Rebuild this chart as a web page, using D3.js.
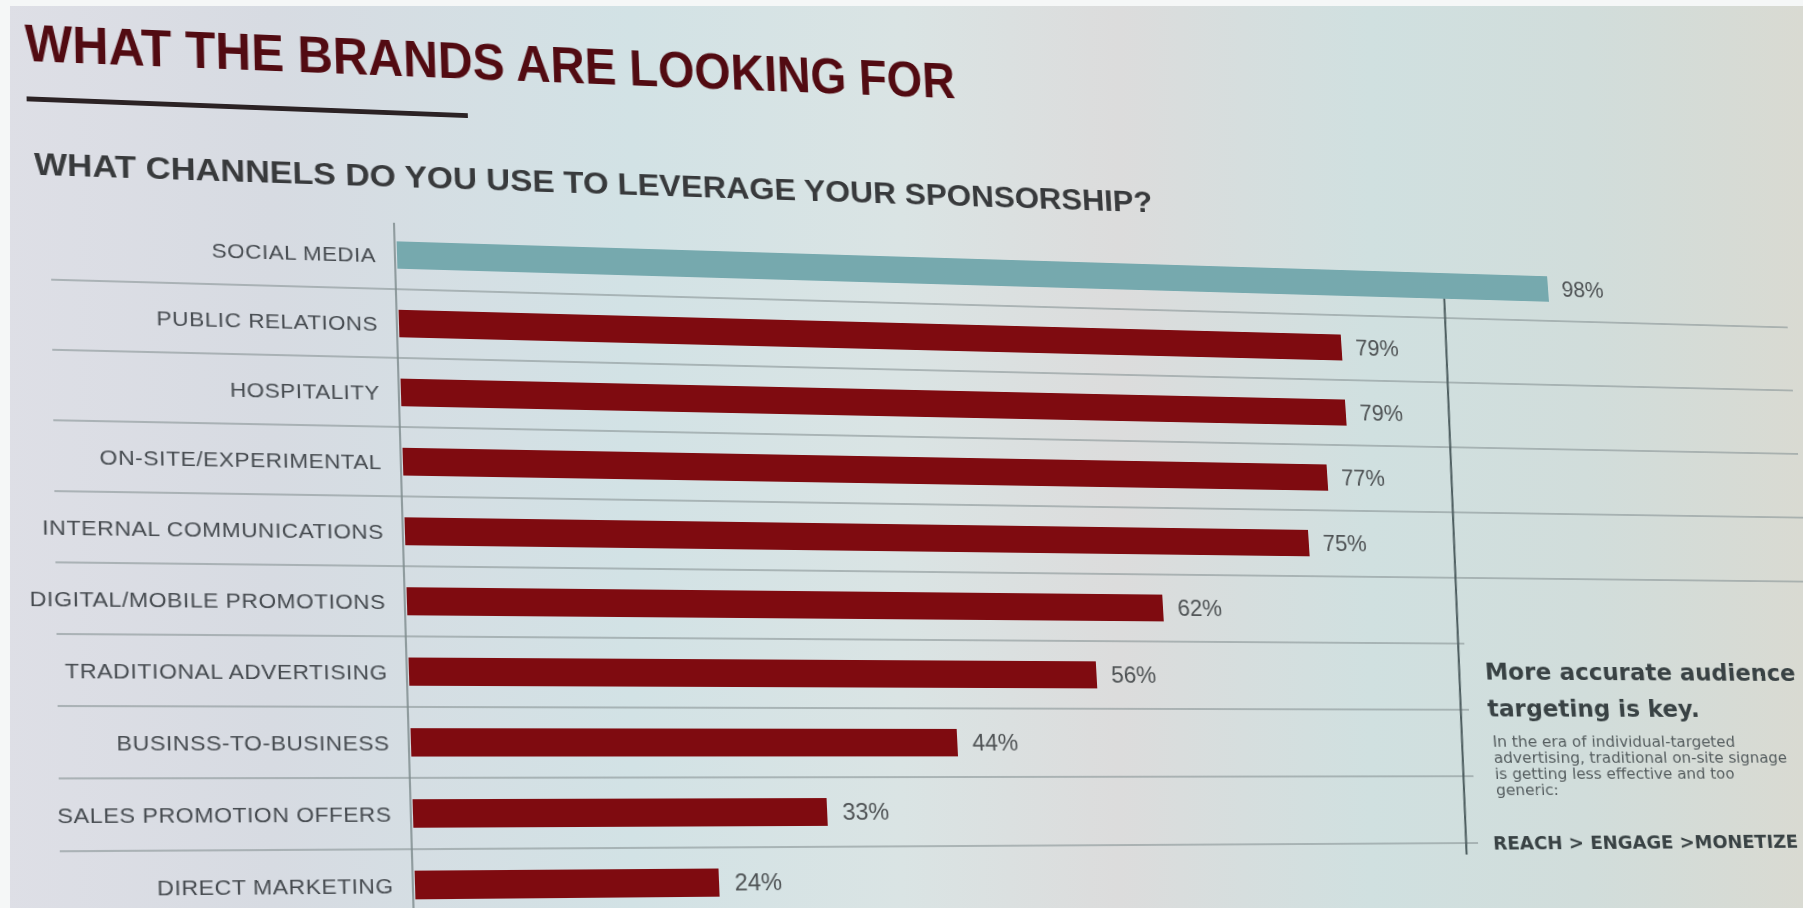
<!DOCTYPE html>
<html>
<head>
<meta charset="utf-8">
<script src="https://cdn.jsdelivr.net/npm/d3@7"></script>
<style>
    html, body { margin: 0; padding: 0; width: 1803px; height: 908px; overflow: hidden; }
    svg { position: absolute; left: 0; top: 0; }
    #slide { transform-origin: 0 0; overflow: visible; }
</style>
</head>
<body>
<svg id="bg" width="1803" height="908"></svg>
<svg id="slide" width="1900" height="960"></svg>
<script>
"use strict";

const categories = [
    "SOCIAL MEDIA",
    "PUBLIC RELATIONS",
    "HOSPITALITY",
    "ON-SITE/EXPERIMENTAL",
    "INTERNAL COMMUNICATIONS",
    "DIGITAL/MOBILE PROMOTIONS",
    "TRADITIONAL ADVERTISING",
    "BUSINSS-TO-BUSINESS",
    "SALES PROMOTION OFFERS",
    "DIRECT MARKETING"
];
const values = [98, 79, 79, 77, 75, 62, 56, 44, 33, 24];
const highlighted = ["SOCIAL MEDIA"];

const title = "WHAT THE BRANDS ARE LOOKING FOR";
const subtitle = "WHAT CHANNELS DO YOU USE TO LEVERAGE YOUR SPONSORSHIP?";
const noteHead = ["More accurate audience", "targeting is key."];
const noteBody = [
    "In the era of individual-targeted",
    "advertising, traditional on-site signage",
    "is getting less effective and too",
    "generic:"
];
const noteFoot = "REACH > ENGAGE >MONETIZE";

(function () {
    const W = 1803, H = 908;

    // background of the photo (not part of the slide transform)
    const bg = d3.select("#bg");
    const grad = bg.append("defs").append("linearGradient").attr("id", "wall");
    [[0, "#dedfe6"], [0.15, "#d7dbe2"], [0.35, "#d2e2e5"], [0.5, "#dae4e4"],
     [0.62, "#dcdcdc"], [0.76, "#d0e0e0"], [0.88, "#d1dddb"], [1, "#d9dad2"]]
        .forEach(s => grad.append("stop").attr("offset", s[0]).attr("stop-color", s[1]));
    bg.append("rect").attr("width", W).attr("height", H).attr("fill", "url(#wall)");
    bg.append("rect").attr("width", W).attr("height", 6).attr("fill", "#f5f7f7");
    bg.append("rect").attr("width", 10).attr("height", H).attr("fill", "#f5f7f7");

    const svg = d3.select("#slide");

    // flat slide layout
    const x0 = 400;
    const x = d3.scaleLinear().domain([0, 100]).range([x0, x0 + 1200]);
    const y = d3.scaleBand().domain(categories).range([220, 920]);
    const barH = 28;
    const rowC = d => y(d) + y.bandwidth() / 2;

    // gridlines between rows, the upper ones run on past the divider
    const bounds = categories.slice(1);
    svg.append("g")
        .selectAll("line")
        .data(bounds)
        .join("line")
        .attr("x1", 77)
        .attr("x2", (d, i) => i < 5 ? 1840 : 1458)
        .attr("y1", d => y(d))
        .attr("y2", d => y(d))
        .attr("stroke", "#8e999b")
        .attr("stroke-width", 1.4)
        .attr("opacity", 0.85);

    // axis line
    svg.append("line")
        .attr("x1", x0 - 2).attr("x2", x0 - 2)
        .attr("y1", 222).attr("y2", 940)
        .attr("stroke", "#7e8b8d").attr("stroke-width", 1.6);

    // divider for the note
    svg.append("line")
        .attr("x1", 1462).attr("x2", 1445)
        .attr("y1", rowC(categories[0]) + barH / 2).attr("y2", 862)
        .attr("stroke", "#4f5f61").attr("stroke-width", 2.2);

    // bars
    svg.append("g")
        .selectAll("rect")
        .data(categories)
        .join("rect")
        .attr("x", x(0))
        .attr("y", d => rowC(d) - barH / 2)
        .attr("width", (d, i) => x(values[i]) - x(0))
        .attr("height", barH)
        .attr("fill", d => highlighted.includes(d) ? "#76a9ae" : "#7f0b10");

    // category labels
    svg.append("g")
        .selectAll("text")
        .data(categories)
        .join("text")
        .attr("x", x0 - 20)
        .attr("y", d => rowC(d))
        .attr("dy", "0.36em")
        .attr("text-anchor", "end")
        .attr("font-family", "Liberation Sans, Arial, sans-serif")
        .attr("font-size", 21)
        .attr("letter-spacing", 0.5)
        .attr("fill", "#464b50")
        .text(d => d);

    // value labels
    svg.append("g")
        .selectAll("text")
        .data(categories)
        .join("text")
        .attr("x", (d, i) => x(values[i]) + 15)
        .attr("y", d => rowC(d))
        .attr("dy", "0.36em")
        .attr("font-family", "Liberation Sans, Arial, sans-serif")
        .attr("font-size", 23)
        .attr("fill", "#4e5254")
        .text((d, i) => values[i] + "%");

    // titles
    svg.append("text")
        .attr("x", 56).attr("y", 70)
        .attr("font-family", "Liberation Sans, Arial, sans-serif")
        .attr("font-weight", "bold")
        .attr("font-size", 54)
        .attr("textLength", 903)
        .attr("lengthAdjust", "spacingAndGlyphs")
        .attr("fill", "#520b12")
        .text(title);
    svg.append("rect")
        .attr("x", 57).attr("y", 106)
        .attr("width", 415).attr("height", 5)
        .attr("fill", "#2b2224");
    svg.append("text")
        .attr("x", 63).attr("y", 185)
        .attr("font-family", "Liberation Sans, Arial, sans-serif")
        .attr("font-weight", "bold")
        .attr("font-size", 32)
        .attr("textLength", 1094)
        .attr("lengthAdjust", "spacingAndGlyphs")
        .attr("fill", "#383a3c")
        .text(subtitle);

    // note on the right, sits right against the edge of the photo
    const note = svg.append("g").attr("font-family", "DejaVu Sans, Verdana, sans-serif").attr("fill", "#394244");
    note.selectAll("text.head")
        .data(noteHead)
        .join("text")
        .attr("class", "head")
        .attr("x", 1478)
        .attr("y", (d, i) => 678 + i * 39)
        .attr("font-weight", "bold")
        .attr("font-size", 25)
        .text(d => d);
    note.selectAll("text.body")
        .data(noteBody)
        .join("text")
        .attr("class", "body")
        .attr("x", 1481)
        .attr("y", (d, i) => 749 + i * 17)
        .attr("font-size", 16.5)
        .attr("fill", "#545c5e")
        .text(d => d);
    note.append("text")
        .attr("x", 1474).attr("y", 857)
        .attr("font-weight", "bold")
        .attr("font-size", 19.5)
        .text(noteFoot);

    // photo perspective: where four flat slide points ended up in the photo
    const flatPts = [
        [x(0), rowC(categories[0])],
        [x(values[0]), rowC(categories[0])],
        [x(0), rowC(categories[9])],
        [x(values[5]), rowC(categories[5])]
    ];
    const photoPts = [[397, 255], [1548, 289], [415, 885], [1163, 608]];

    function solve(A, b) {
        const n = b.length;
        for (let i = 0; i < n; i++) {
            let p = i;
            for (let r = i + 1; r < n; r++) {
                if (Math.abs(A[r][i]) > Math.abs(A[p][i])) p = r;
            }
            [A[i], A[p]] = [A[p], A[i]];
            [b[i], b[p]] = [b[p], b[i]];
            for (let r = i + 1; r < n; r++) {
                const f = A[r][i] / A[i][i];
                for (let c = i; c < n; c++) A[r][c] -= f * A[i][c];
                b[r] -= f * b[i];
            }
        }
        const out = new Array(n).fill(0);
        for (let i = n - 1; i >= 0; i--) {
            let s = b[i];
            for (let c = i + 1; c < n; c++) s -= A[i][c] * out[c];
            out[i] = s / A[i][i];
        }
        return out;
    }

    function homography(src, dst) {
        const A = [], b = [];
        src.forEach(([sx, sy], i) => {
            const [u, v] = dst[i];
            A.push([sx, sy, 1, 0, 0, 0, -sx * u, -sy * u]); b.push(u);
            A.push([0, 0, 0, sx, sy, 1, -sx * v, -sy * v]); b.push(v);
        });
        return solve(A, b);
    }

    const h = homography(flatPts, photoPts);
    d3.select("#slide").style("transform",
        `matrix3d(${h[0]},${h[3]},0,${h[6]},${h[1]},${h[4]},0,${h[7]},0,0,1,0,${h[2]},${h[5]},0,1)`);
})();
</script>
</body>
</html>
